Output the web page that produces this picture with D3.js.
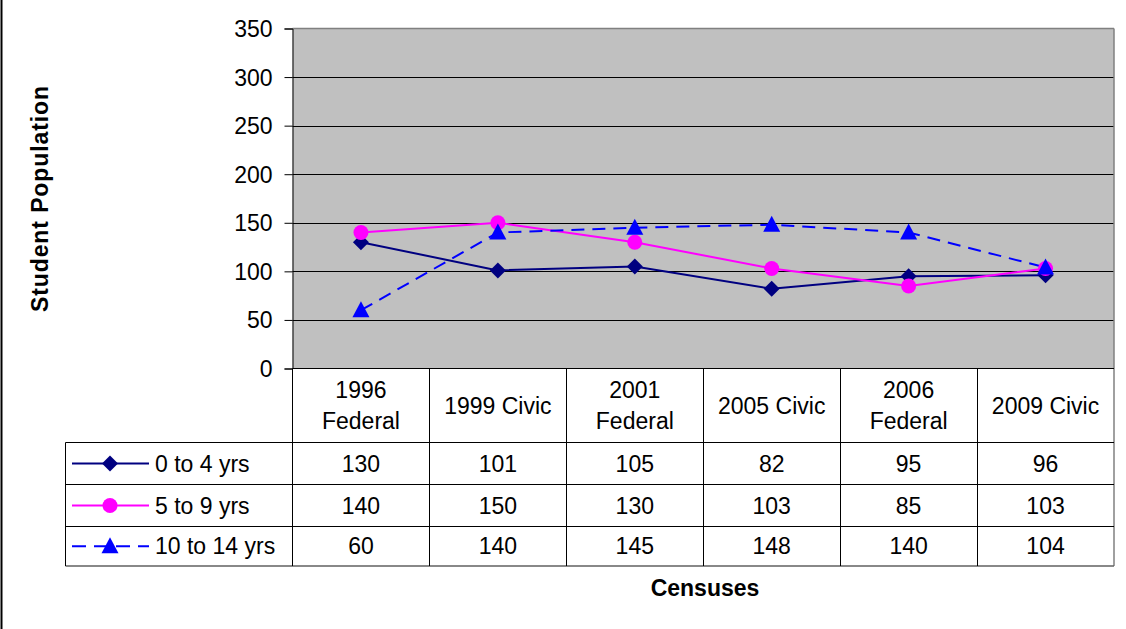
<!DOCTYPE html>
<html>
<head>
<meta charset="utf-8">
<script src="https://cdn.jsdelivr.net/npm/d3@7/dist/d3.min.js"></script>
<style>
  html, body { margin: 0; padding: 0; background: #fff; }
  svg { display: block; font-family: "Liberation Sans", Arial, sans-serif; }
</style>
</head>
<body>
<svg id="chart" width="1126" height="629"></svg>
<script>
// Census categories (label lines) and student counts per age group
const categories = ["1996 Federal", "1999 Civic", "2001 Federal", "2005 Civic", "2006 Federal", "2009 Civic"];
const categoryLines = [["1996", "Federal"], ["1999 Civic"], ["2001", "Federal"], ["2005 Civic"], ["2006", "Federal"], ["2009 Civic"]];
const seriesNames = ["0 to 4 yrs", "5 to 9 yrs", "10 to 14 yrs"];
const age0to4 = [130, 101, 105, 82, 95, 96];
const age5to9 = [140, 150, 130, 103, 85, 103];
const age10to14 = [60, 140, 145, 148, 140, 104];
const yTicks = [0, 50, 100, 150, 200, 250, 300, 350];

const series = [
  { name: seriesNames[0], values: age0to4, color: "#000080", marker: "diamond", dash: null },
  { name: seriesNames[1], values: age5to9, color: "#FF00FF", marker: "circle", dash: null },
  { name: seriesNames[2], values: age10to14, color: "#0000FF", marker: "triangle", dash: "13,8" }
];

const svg = d3.select("#chart");
const plot = { left: 292.5, right: 1114, top: 28.5, bottom: 368.5 };
const table = { left: 65.5, rows: [442.5, 484.5, 526.5, 566] };
const fontSize = 23;

const x = d3.scaleBand().domain(categories).range([plot.left, plot.right]);
const y = d3.scaleLinear().domain([0, 350]).range([plot.bottom, plot.top]);

// page border on the left edge
svg.append("line").attr("x1", 1.5).attr("x2", 1.5).attr("y1", 0).attr("y2", 629)
  .attr("stroke", "#000").attr("stroke-width", 2);

// plot background
svg.append("rect")
  .attr("x", plot.left).attr("y", plot.top)
  .attr("width", plot.right - plot.left).attr("height", plot.bottom - plot.top)
  .attr("fill", "#C0C0C0");

// horizontal gridlines
svg.append("g").selectAll("line")
  .data(yTicks.filter(d => d > 0 && d < 350))
  .join("line")
  .attr("x1", plot.left).attr("x2", plot.right)
  .attr("y1", d => Math.round(y(d)) + 0.5).attr("y2", d => Math.round(y(d)) + 0.5)
  .attr("stroke", "#000").attr("stroke-width", 1);

// plot frame: top and right in gray
svg.append("line").attr("x1", plot.left).attr("x2", plot.right)
  .attr("y1", plot.top).attr("y2", plot.top).attr("stroke", "#808080").attr("stroke-width", 1.5);
svg.append("line").attr("x1", plot.right).attr("x2", plot.right)
  .attr("y1", plot.top).attr("y2", table.rows[3]).attr("stroke", "#808080").attr("stroke-width", 1.5);

// y axis
const yAxis = d3.axisLeft(y).tickValues(yTicks).tickSize(8).tickPadding(12);
const gy = svg.append("g").attr("transform", `translate(${plot.left},0)`).call(yAxis);
gy.select(".domain").attr("stroke", "#000");
gy.selectAll(".tick line").attr("stroke", "#000");
gy.selectAll(".tick text").attr("font-size", fontSize).attr("fill", "#000")
  .attr("font-family", "'Liberation Sans', Arial, sans-serif").attr("dy", "0.35em");

// data table grid
const tg = svg.append("g").attr("stroke", "#000").attr("stroke-width", 1);
tg.append("line").attr("x1", plot.left).attr("x2", plot.right).attr("y1", plot.bottom).attr("y2", plot.bottom);
table.rows.slice(0, 3).forEach(r => {
  tg.append("line").attr("x1", table.left).attr("x2", plot.right).attr("y1", r).attr("y2", r);
});
tg.append("line").attr("x1", table.left).attr("x2", plot.right)
  .attr("y1", table.rows[3]).attr("y2", table.rows[3]).attr("stroke", "#606060").attr("stroke-width", 1.5);
tg.append("line").attr("x1", table.left).attr("x2", table.left).attr("y1", table.rows[0]).attr("y2", table.rows[3]);
categories.forEach((c, i) => {
  if (i === 0) {
    tg.append("line").attr("x1", plot.left).attr("x2", plot.left).attr("y1", plot.bottom).attr("y2", table.rows[3]);
  } else {
    const xb = Math.round(x(c)) + 0.5;
    tg.append("line").attr("x1", xb).attr("x2", xb).attr("y1", plot.bottom).attr("y2", table.rows[3]);
  }
});

// category labels in the header row
const headerMid = (plot.bottom + table.rows[0]) / 2;
categories.forEach((c, i) => {
  const lines = categoryLines[i];
  const cx = x(c) + x.bandwidth() / 2;
  lines.forEach((ln, j) => {
    svg.append("text")
      .attr("x", cx)
      .attr("y", headerMid + (j - (lines.length - 1) / 2) * 31)
      .attr("dy", "0.35em")
      .attr("text-anchor", "middle")
      .attr("font-size", fontSize)
      .text(ln);
  });
});

// marker shapes
function drawMarker(g, type, cx, cy, color) {
  if (type === "diamond") {
    g.append("path").attr("d", `M${cx},${cy - 8}L${cx + 8},${cy}L${cx},${cy + 8}L${cx - 8},${cy}Z`).attr("fill", color);
  } else if (type === "circle") {
    g.append("circle").attr("cx", cx).attr("cy", cy).attr("r", 7.5).attr("fill", color);
  } else {
    g.append("path").attr("d", `M${cx},${cy - 9}L${cx + 8.5},${cy + 7}L${cx - 8.5},${cy + 7}Z`).attr("fill", color);
  }
}

// table values and legend keys
const rowMids = [0, 1, 2].map(i => (table.rows[i] + table.rows[i + 1]) / 2);
series.forEach((s, si) => {
  const ry = rowMids[si];
  const lg = svg.append("g");
  lg.append("line").attr("x1", 72).attr("x2", 149).attr("y1", ry).attr("y2", ry)
    .attr("stroke", s.color).attr("stroke-width", 2)
    .attr("stroke-dasharray", s.dash ? "14,8" : null);
  drawMarker(lg, s.marker, 110, ry, s.color);
  svg.append("text").attr("x", 155).attr("y", ry).attr("dy", "0.35em")
    .attr("font-size", fontSize).text(s.name);
  s.values.forEach((v, i) => {
    svg.append("text")
      .attr("x", x(categories[i]) + x.bandwidth() / 2)
      .attr("y", ry).attr("dy", "0.35em")
      .attr("text-anchor", "middle")
      .attr("font-size", fontSize)
      .text(v);
  });
});

// series lines and markers
const line = d3.line()
  .x((d, i) => x(categories[i]) + x.bandwidth() / 2)
  .y(d => y(d));
series.forEach(s => {
  svg.append("path").datum(s.values)
    .attr("d", line)
    .attr("fill", "none")
    .attr("stroke", s.color)
    .attr("stroke-width", 2)
    .attr("stroke-dasharray", s.dash);
});
series.forEach(s => {
  const mg = svg.append("g");
  s.values.forEach((v, i) => drawMarker(mg, s.marker, x(categories[i]) + x.bandwidth() / 2, y(v), s.color));
});

// axis titles
svg.append("text")
  .attr("transform", "translate(48,199) rotate(-90)")
  .attr("text-anchor", "middle")
  .attr("font-size", 23).attr("font-weight", "bold")
  .attr("textLength", 226).attr("lengthAdjust", "spacing")
  .text("Student Population");
svg.append("text")
  .attr("x", 705).attr("y", 596)
  .attr("text-anchor", "middle")
  .attr("font-size", 23).attr("font-weight", "bold")
  .text("Censuses");
</script>
</body>
</html>
